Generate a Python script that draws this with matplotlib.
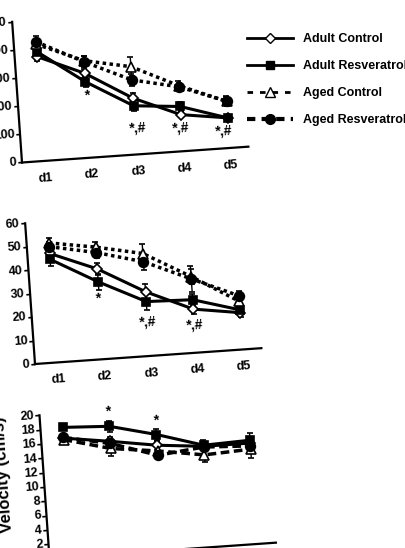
import matplotlib
matplotlib.use("Agg")
import matplotlib.pyplot as plt
from matplotlib.lines import Line2D
from matplotlib.transforms import Affine2D
import mpl_toolkits.axisartist.floating_axes as floating_axes
from mpl_toolkits.axisartist.grid_finder import FixedLocator, DictFormatter

plt.rcParams['font.family'] = ['Liberation Sans', 'DejaVu Sans']
plt.rcParams['font.weight'] = 'bold'

# ---- data ----
days = ['d1', 'd2', 'd3', 'd4', 'd5']
day_x = [1, 2, 3, 4, 5]
groups = ['Adult Control', 'Adult Resveratrol', 'Aged Control', 'Aged Resveratrol']

# top panel (0-500)
top_adult_ctrl = [371, 300, 200, 130, 107]
top_adult_resv = [389, 270, 173, 159, 107]
top_aged_ctrl = [415, 345, 312, 233, 166]
top_aged_resv = [424, 341, 265, 229, 166]
top_adult_ctrl_err = [15, 15, 20, 10, 8]
top_adult_resv_err = [15, 20, 20, 15, 8]
top_aged_ctrl_err = [15, 15, 33, 18, 15]
top_aged_resv_err = [20, 20, 20, 15, 18]
top_marks = [('*', 2.01, 223), ('*,#', 3.03, 94), ('*,#', 3.97, 83), ('*,#', 4.87, 62)]

# middle panel (0-60)
mid_adult_ctrl = [46.5, 38.5, 27.4, 18.6, 15.7]
mid_adult_resv = [44.0, 33.0, 23.2, 22.6, 16.9]
mid_aged_ctrl = [51.0, 47.8, 43.7, 32.5, 20.5]
mid_aged_resv = [49.4, 45.5, 40.2, 31.5, 22.9]
mid_adult_ctrl_err = [2, 2.5, 3.5, 2, 2]
mid_adult_resv_err = [3, 3.5, 3.5, 2.5, 2]
mid_aged_ctrl_err = [2, 2, 4, 3, 2]
mid_aged_resv_err = [2, 2.5, 3.5, 5.5, 2]
mid_marks = [('*', 1.97, 26.0), ('*,#', 2.98, 14.5), ('*,#', 3.98, 11.8)]

# bottom panel, velocity (0-20)
vel_adult_ctrl = [16.6, 15.7, 14.7, 14.1, 14.1]
vel_adult_resv = [18.1, 17.8, 16.2, 14.25, 14.5]
vel_aged_ctrl = [16.4, 14.7, 13.9, 12.9, 13.25]
vel_aged_resv = [16.7, 15.4, 13.3, 14.0, 13.7]
vel_adult_ctrl_err = [0.5, 0.6, 0.6, 0.6, 0.6]
vel_adult_resv_err = [0.4, 0.8, 0.8, 0.7, 1.0]
vel_aged_ctrl_err = [0.5, 1.0, 0.5, 1.0, 1.2]
vel_aged_resv_err = [0.5, 0.6, 0.5, 0.6, 0.8]
vel_marks = [('*', 2.0, 19.9), ('*', 3.0, 18.2)]

FIG_W, FIG_H = 405, 548
TILT = 4.0          # the scanned figure is slightly rotated
X_LO, X_HI = 0.52, 5.4
KX = 46.5           # px per day


def tilted_axes(fig, origin, y_hi, ky, yticks):
    """Floating axes rotated by TILT, whose (X_LO, 0) corner lands on origin (px, y down)."""
    tr = Affine2D().scale(KX, ky).rotate_deg(TILT)
    helper = floating_axes.GridHelperCurveLinear(
        tr, extremes=(X_LO, X_HI, 0, y_hi),
        grid_locator1=FixedLocator(day_x),
        tick_formatter1=DictFormatter(dict(zip(day_x, days))),
        grid_locator2=FixedLocator(yticks),
        tick_formatter2=DictFormatter({v: str(v) for v in yticks}))
    corners = tr.transform([(X_LO, 0), (X_HI, 0), (X_HI, y_hi), (X_LO, y_hi)])
    lo, hi = corners.min(axis=0), corners.max(axis=0)
    ctr, half = (lo + hi) / 2, (hi - lo) * 1.02 / 2
    lo_e = ctr - half
    left = origin[0] - (corners[0, 0] - lo_e[0])
    bottom = (FIG_H - origin[1]) - (corners[0, 1] - lo_e[1])
    rect = [left / FIG_W, bottom / FIG_H, 2 * half[0] / FIG_W, 2 * half[1] / FIG_H]
    ax = fig.add_axes(rect, axes_class=floating_axes.FloatingAxes, grid_helper=helper)
    ax.axis['top'].set_visible(False)
    ax.axis['right'].set_visible(False)
    for side in ('left', 'bottom'):
        a = ax.axis[side]
        a.line.set_linewidth(1.6)
        a.major_ticks.set_tick_out(True)
        a.major_ticks.set_ticksize(3)
        a.major_ticks.set_markeredgewidth(1.2)
        a.major_ticklabels.set_fontsize(9)
        a.major_ticklabels.set_fontweight('bold')
    ax.axis['bottom'].major_ticks.set_visible(False)
    ax.axis['bottom'].major_ticklabels.set_pad(8)
    ax.axis['left'].major_ticklabels.set_pad(1)
    aux = ax.get_aux_axes(tr)
    return ax, aux


def draw_panel(aux, series, errs, aged_ls, marks):
    styles = [
        dict(ls='-', lw=2.2, marker='D', ms=5.5, mfc='white'),
        dict(ls='-', lw=2.2, marker='s', ms=6, mfc='black'),
        dict(ls=aged_ls, lw=2.5, marker='^', ms=7, mfc='white'),
        dict(ls=aged_ls, lw=2.5, marker='o', ms=7, mfc='black'),
    ]
    handles = []
    for y, e, st in zip(series, errs, styles):
        h = aux.errorbar(day_x, y, yerr=e, color='black', mec='black', mew=1.2,
                         capsize=2, elinewidth=1, clip_on=False, **st)
        handles.append(h)
    for txt, x, y in marks:
        aux.text(x, y, txt, ha='center', va='center', fontsize=10, fontweight='bold',
                 rotation=TILT, rotation_mode='anchor', clip_on=False)
    return handles


fig = plt.figure(figsize=(FIG_W / 100, FIG_H / 100), dpi=100)

ax1, aux1 = tilted_axes(fig, (22, 162.5), 500, 141 / 500, [0, 100, 200, 300, 400, 500])
draw_panel(aux1, [top_adult_ctrl, top_adult_resv, top_aged_ctrl, top_aged_resv],
           [top_adult_ctrl_err, top_adult_resv_err, top_aged_ctrl_err, top_aged_resv_err],
           (0, (1, 1)), top_marks)

ax2, aux2 = tilted_axes(fig, (35, 364), 60, 141 / 60, [0, 10, 20, 30, 40, 50, 60])
draw_panel(aux2, [mid_adult_ctrl, mid_adult_resv, mid_aged_ctrl, mid_aged_resv],
           [mid_adult_ctrl_err, mid_adult_resv_err, mid_aged_ctrl_err, mid_aged_resv_err],
           (0, (1, 1)), mid_marks)

ax3, aux3 = tilted_axes(fig, (49.5, 558.5), 20, 143.5 / 20, list(range(0, 21, 2)))
draw_panel(aux3, [vel_adult_ctrl, vel_adult_resv, vel_aged_ctrl, vel_aged_resv],
           [vel_adult_ctrl_err, vel_adult_resv_err, vel_aged_ctrl_err, vel_aged_resv_err],
           (0, (2.5, 1.3)), vel_marks)

fig.text(3 / FIG_W, 1 - 474 / FIG_H, 'Velocity (cm/s)', rotation=90 + TILT,
         ha='center', va='center', fontsize=12, fontweight='bold')

legend_handles = [
    Line2D([], [], color='black', lw=2, marker='D', ms=5.5, mfc='white'),
    Line2D([], [], color='black', lw=2, marker='s', ms=6, mfc='black'),
    Line2D([], [], color='black', lw=2, ls=(0, (2, 2.5)), marker='^', ms=7, mfc='white'),
    Line2D([], [], color='black', lw=3, ls=(0, (2, 1.5)), marker='o', ms=7, mfc='black'),
]
fig.legend(legend_handles, groups, loc='upper left',
           bbox_to_anchor=(247 / FIG_W, 1 - 33 / FIG_H), frameon=False,
           handlelength=3.7, handletextpad=0.8, labelspacing=1.2,
           borderpad=0, borderaxespad=0, prop={'weight': 'bold', 'size': 9})

fig.savefig('out.png', dpi=100)
